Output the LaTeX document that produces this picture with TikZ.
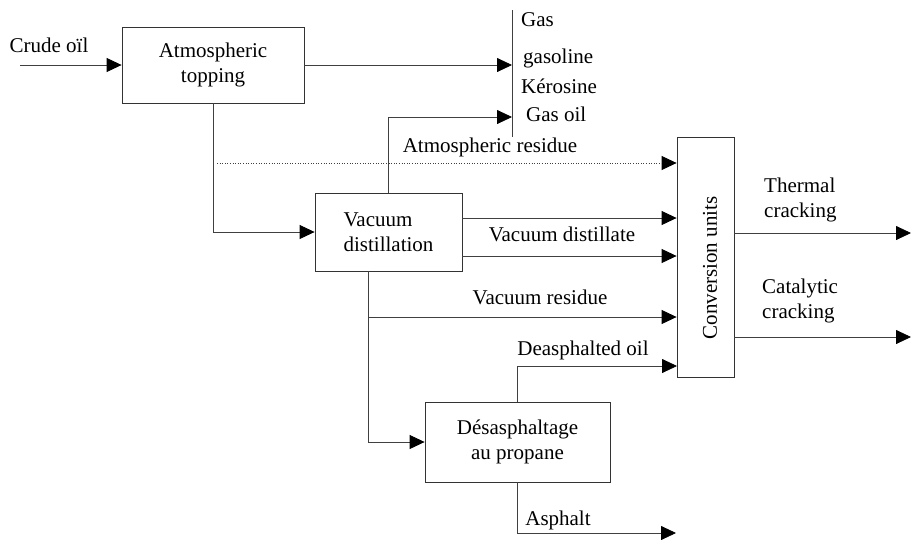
\documentclass[tikz,border=0pt]{standalone}
\usepackage{fontspec}
\setmainfont{Liberation Serif}
\usetikzlibrary{arrows.meta}

\tikzset{
  unit/.style={draw=black!80, line width=0.8pt, rectangle, inner sep=0pt},
  flow/.style={draw=black!75, line width=0.8pt, -{Triangle[length=15pt,width=14pt,black]}},
  pipe/.style={draw=black!75, line width=0.8pt},
  lbl/.style={inner sep=0pt, align=left},
}

\begin{document}
\begin{tikzpicture}[x=1pt, y=-1pt, font=\fontsize{21}{25}\selectfont]
    \useasboundingbox (0,0) rectangle (911,539);
    % process units
    \node[unit, minimum width=182pt, minimum height=76pt, align=center] (atm) at (213,65) {Atmospheric\\topping};
    \node[unit, minimum width=147pt, minimum height=78pt, align=left] (vac) at (388.5,232) {Vacuum\\distillation};
    \node[unit, minimum width=185pt, minimum height=80pt, align=center] (desa) at (517.5,442) {D\'esasphaltage\\au propane};
    \node[unit, minimum width=57pt, minimum height=240pt] (conv) at (705.5,257) {};
    \node[lbl, rotate=90] (convtext) at (710,268) {Conversion units};
    % free ends and bends
    \coordinate (crude) at (20,65);
    \coordinate (gtop) at (512,10);
    \coordinate (gbot) at (512,137);
    \coordinate (goil) at (512,117);
    \coordinate (ares) at (217,163);
    \coordinate (vres) at (368,317);
    \coordinate (doil) at (677,366);
    \coordinate (asph) at (676,533);
    \coordinate (thend) at (911,233);
    \coordinate (caend) at (911,337);
    % light products
    \draw[pipe] (gtop) -- (gbot);
    \node[lbl, anchor=west] (gas) at (521,20) {Gas};
    \node[lbl, anchor=west] (gasoline) at (523,58) {gasoline};
    \node[lbl, anchor=west] (kero) at (521,86) {K\'erosine};
    \node[lbl, anchor=west] (gasoil) at (526,114) {Gas oil};
    % connectors
    \draw[flow] (crude) -- (atm.west);
    \node[lbl] (crudetext) at (49,45) {Crude o\"il};
    \draw[flow] (atm.east) -- (atm.east -| gtop);
    \draw[flow] (vac.north) |- (goil);
    \draw[flow] (atm.south) |- (vac.west);
    \draw[flow, dash pattern=on 1pt off 1.6pt] (ares) -- (ares -| conv.west);
    \node[lbl] (arestext) at (490,147) {Atmospheric residue};
    \draw[flow] ([yshift=14pt]vac.east) -- ([yshift=14pt]vac.east -| conv.west);
    \draw[flow] ([yshift=-24pt]vac.east) -- ([yshift=-24pt]vac.east -| conv.west);
    \node[lbl] (vdtext) at (562,234) {Vacuum distillate};
    \draw[flow] ([xshift=-20.5pt]vac.south) |- (desa.west);
    \draw[flow] (vres) -- (vres -| conv.west);
    \node[lbl] (vrtext) at (540,297) {Vacuum residue};
    \draw[flow] (desa.north) |- (doil);
    \node[lbl] (dotext) at (583,350) {Deasphalted oil};
    \draw[flow] (desa.south) |- (asph);
    \node[lbl] (asphtext) at (558,520) {Asphalt};
    \draw[flow] (thend -| conv.east) -- (thend);
    \node[lbl, anchor=west] (thtext) at (764,200) {Thermal\\cracking};
    \draw[flow] (caend -| conv.east) -- (caend);
    \node[lbl, anchor=west] (catext) at (762,301) {Catalytic\\cracking};
\end{tikzpicture}
\end{document}
